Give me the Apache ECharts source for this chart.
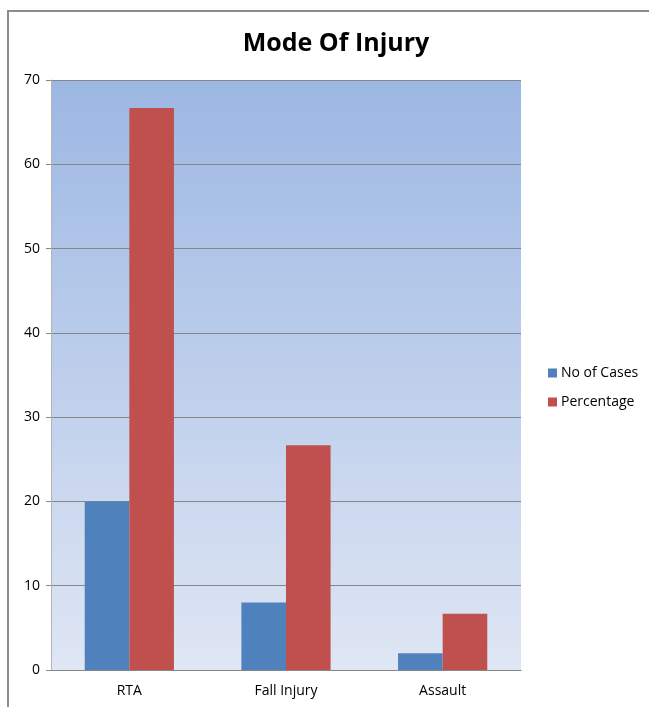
<!DOCTYPE html>
<html>
<head>
<meta charset="utf-8">
<script src="https://cdn.jsdelivr.net/npm/echarts@6/dist/echarts.min.js"></script>
<style>
  html, body { margin: 0; padding: 0; background: #fff; }
  #chart { width: 649px; height: 707px; }
</style>
</head>
<body>
<div id="chart"></div>
<script>
// Mode of injury: case counts and percentages per category
const categories = ['RTA', 'Fall Injury', 'Assault'];
const noOfCases = [20, 8, 2];
const percentage = [66.67, 26.67, 6.67];
const seriesNames = ['No of Cases', 'Percentage'];
const yTicks = { min: 0, max: 70, interval: 10 };

const chart = echarts.init(document.getElementById('chart'), null, { renderer: 'canvas' });

const font = "'Open Sans', 'Liberation Sans', sans-serif";

chart.setOption({
  animation: false,
  backgroundColor: '#ffffff',
  title: {
    text: 'Mode Of Injury',
    left: 331,
    textAlign: 'center',
    top: 26,
    textStyle: { fontFamily: font, fontWeight: 'bold', fontSize: 25, color: '#000' }
  },
  graphic: [{
    type: 'rect',
    shape: { x: 8, y: 11, width: 700, height: 800 },
    style: { fill: 'none', stroke: '#8c8c8c', lineWidth: 2 },
    silent: true,
    z: 100
  }],
  legend: {
    orient: 'vertical',
    left: 543,
    top: 361,
    itemWidth: 9,
    itemHeight: 9,
    itemGap: 15,
    icon: 'rect',
    textStyle: { fontFamily: font, fontSize: 14, color: '#000', padding: [0, 0, 0, -1] },
    data: seriesNames
  },
  grid: {
    left: 51, right: 649 - 521, top: 80, bottom: 707 - 670,
    show: true,
    borderWidth: 0,
    backgroundColor: {
      type: 'linear', x: 0, y: 0, x2: 0, y2: 1,
      colorStops: [
        { offset: 0, color: '#9cb7e3' },
        { offset: 1, color: '#dfe6f4' }
      ]
    }
  },
  xAxis: {
    type: 'category',
    data: categories,
    axisLine: { show: true, lineStyle: { color: '#868686', width: 1 } },
    axisTick: { show: false },
    axisLabel: { fontFamily: font, fontSize: 14, color: '#000', margin: 14 }
  },
  yAxis: {
    type: 'value',
    min: yTicks.min, max: yTicks.max, interval: yTicks.interval,
    axisLine: { show: true, lineStyle: { color: '#b4b4b4', width: 1 } },
    axisTick: { show: true, length: 5, lineStyle: { color: '#868686' } },
    axisLabel: { fontFamily: font, fontSize: 14, color: '#000', margin: 11 },
    splitLine: { show: true, lineStyle: { color: '#868686', width: 1 } }
  },
  series: [
    {
      name: seriesNames[0], type: 'bar', data: noOfCases,
      barWidth: 44.6, barGap: '0%',
      itemStyle: { color: '#4f81bd' }
    },
    {
      name: seriesNames[1], type: 'bar', data: percentage,
      barWidth: 44.6, barGap: '0%',
      itemStyle: { color: '#c0504d' }
    }
  ]
});
</script>
</body>
</html>
